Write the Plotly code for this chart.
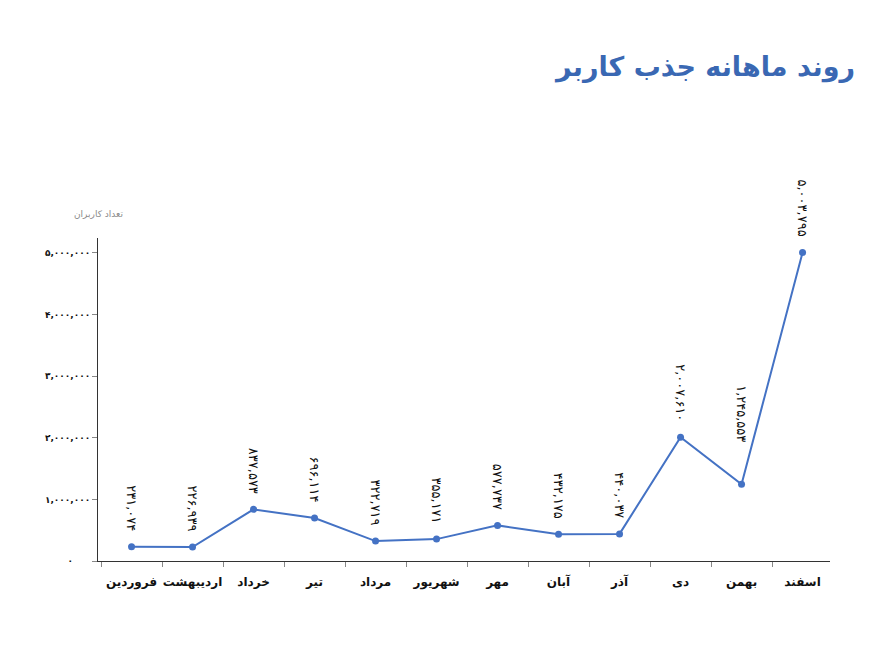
import plotly.graph_objects as go

months = ["فروردین", "اردیبهشت", "خرداد", "تیر", "مرداد", "شهریور",
          "مهر", "آبان", "آذر", "دی", "بهمن", "اسفند"]
users = [231074, 226939, 837573, 696114, 322719, 355171,
         577737, 432175, 440037, 2007610, 1245553, 5003795]
y_ticks = [0, 1000000, 2000000, 3000000, 4000000, 5000000]

title_text = "روند ماهانه جذب کاربر"
y_title = "تعداد کاربران"

PERSIAN = str.maketrans("0123456789", "۰۱۲۳۴۵۶۷۸۹")


def fa(n):
    return f"{n:,}".translate(PERSIAN)


def tick_label(n):
    s = f"<b>{fa(n)}</b>"
    if n == 0:
        s += "\u00a0" * 6
    return s


line_color = "#4472c4"
font_fa = "DejaVu Sans, Noto Sans, sans-serif"
# extra lift for labels that would otherwise sit on the line
label_lift = {"بهمن": 26}

fig = go.Figure()
fig.add_trace(go.Scatter(
    x=months, y=users, mode="lines+markers",
    line=dict(color=line_color, width=2),
    marker=dict(color=line_color, size=7),
    cliponaxis=False, showlegend=False,
))

for m, v in zip(months, users):
    fig.add_annotation(
        x=m, y=v, xref="x", yref="y", text=fa(v), showarrow=False,
        textangle=90, yanchor="bottom", xanchor="center",
        yshift=14 + label_lift.get(m, 0),
        font=dict(size=13, color="#111111", family=font_fa),
    )

fig.add_annotation(
    text=f"<b>{title_text}</b>", xref="paper", yref="paper",
    x=1.037, y=1.53, xanchor="right", yanchor="middle", showarrow=False,
    font=dict(size=27, color="#3a68b3", family=font_fa),
)
fig.add_annotation(
    text=y_title, xref="paper", yref="paper",
    x=0.0, y=1.075, xanchor="center", yanchor="middle", showarrow=False,
    font=dict(size=9, color="#8a8a8a", family=font_fa),
)

fig.update_layout(
    width=882, height=650,
    margin=dict(l=98, r=52, t=238, b=89),
    paper_bgcolor="white", plot_bgcolor="white",
    font=dict(family=font_fa),
    xaxis=dict(
        type="category", categoryorder="array", categoryarray=months,
        range=[-0.55, 11.45],
        showline=True, linecolor="#333333", linewidth=1,
        ticks="outside", ticklen=5, tickcolor="#888888", tickson="boundaries",
        showgrid=False, zeroline=False, tickangle=0, ticklabelstandoff=10,
        tickfont=dict(size=12, color="#111111", family=font_fa),
        ticktext=[f"<b>{m}</b>" for m in months], tickvals=months,
    ),
    yaxis=dict(
        range=[0, 5240000],
        tickvals=y_ticks, ticktext=[tick_label(t) for t in y_ticks],
        showline=True, linecolor="#333333", linewidth=1,
        ticks="outside", ticklen=5, tickcolor="#888888",
        showgrid=False, zeroline=False,
        tickfont=dict(size=9, color="#111111", family=font_fa),
    ),
)

fig.write_html("out.html")
